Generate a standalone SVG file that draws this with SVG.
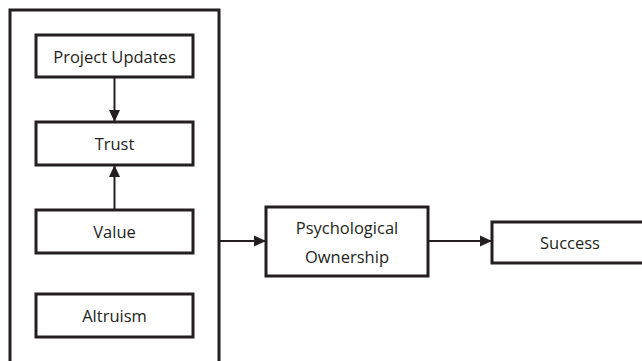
<svg xmlns="http://www.w3.org/2000/svg" width="642" height="361" viewBox="0 0 642 361">
<defs>
<style>
.box{fill:#fff;stroke:#231f20;stroke-width:3}
.lbl{font-family:"Open Sans","Liberation Sans",sans-serif;font-size:16.5px;fill:#231f20;text-anchor:middle;dominant-baseline:central}
.con{stroke:#231f20;stroke-width:2;fill:none}
</style>
<marker id="ah" markerWidth="12" markerHeight="12" refX="11" refY="6" orient="auto" markerUnits="userSpaceOnUse">
<path d="M0,0.5 L12,6 L0,11.5 Z" fill="#231f20"/>
</marker>
</defs>
<g id="group-box"><rect class="box" x="10" y="10" width="209" height="360"/></g>
<g id="project-updates"><rect class="box" x="36" y="35" width="157" height="42"/><text class="lbl" x="114.5" y="56">Project Updates</text></g>
<g id="trust"><rect class="box" x="36" y="122" width="157" height="43"/><text class="lbl" x="114.5" y="143.5">Trust</text></g>
<g id="value"><rect class="box" x="36" y="210" width="157" height="43"/><text class="lbl" x="114.5" y="231.5">Value</text></g>
<g id="altruism"><rect class="box" x="36" y="294" width="157" height="43"/><text class="lbl" x="114.5" y="315.5">Altruism</text></g>
<g id="psych"><rect class="box" x="266" y="207" width="162" height="69"/><text class="lbl" x="347" y="227.5">Psychological</text><text class="lbl" x="347" y="256.5">Ownership</text></g>
<g id="success"><rect class="box" x="492" y="222" width="160" height="41"/><text class="lbl" x="570" y="242">Success</text></g>
<g id="connectors">
<line class="con" x1="114.5" y1="77" x2="114.5" y2="121" marker-end="url(#ah)"/>
<line class="con" x1="114.5" y1="210" x2="114.5" y2="166" marker-end="url(#ah)"/>
<line class="con" x1="219" y1="241" x2="265" y2="241" marker-end="url(#ah)"/>
<line class="con" x1="428" y1="241" x2="491" y2="241" marker-end="url(#ah)"/>
</g>
</svg>
